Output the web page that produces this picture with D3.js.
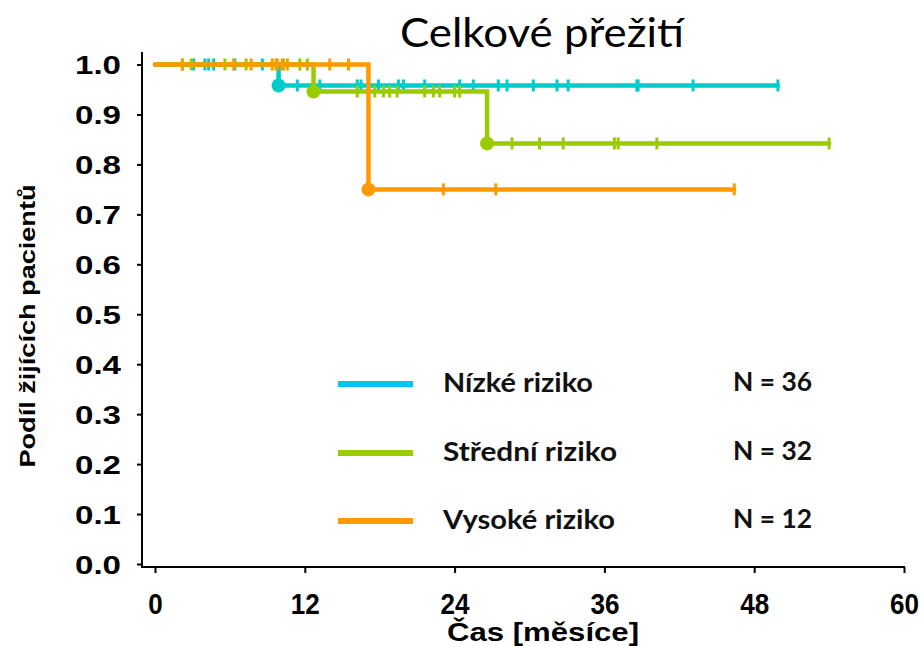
<!DOCTYPE html>
<html>
<head>
<meta charset="utf-8">
<script src="https://cdn.jsdelivr.net/npm/d3@7"></script>
<style>
  html, body { margin: 0; padding: 0; background: #fff; }
  svg { display: block; }
</style>
</head>
<body>
<svg id="chart" width="921" height="646"></svg>
<script>
// Kaplan–Meier overall survival by risk group (months)
const groups = ["Nízké riziko", "Střední riziko", "Vysoké riziko"];
const groupN = [36, 32, 12];
const groupColors = ["#00cccc", "#99cc00", "#ff9900"];
const legendColors = ["#00c4f0", "#99cc00", "#ff9900"];

// event times and survival after each event
const lowEvents = [{ t: 9.9, s: 0.958 }];
const midEvents = [{ t: 12.7, s: 0.946 }, { t: 26.6, s: 0.842 }];
const highEvents = [{ t: 17.1, s: 0.75 }];

// censored observation times (the last one ends the curve)
const lowCensored = [3.1, 4.0, 4.3, 4.7, 6.4, 8.6, 11.4, 13.2, 16.2, 16.5, 17.9, 19.5, 19.9,
  21.6, 24.4, 25.5, 27.5, 28.2, 30.3, 32.2, 33.1, 38.6, 38.7, 43.1, 49.9];
const midCensored = [2.2, 2.9, 5.6, 7.3, 9.7, 10.3, 11.6, 12.2, 16.2, 17.6, 18.3, 18.8, 19.4,
  21.6, 22.3, 22.8, 24.0, 24.4, 28.6, 30.8, 32.7, 36.8, 37.1, 40.2, 54.0];
const highCensored = [2.2, 6.3, 7.7, 9.4, 9.8, 10.2, 10.6, 14.0, 15.5, 23.1, 27.3, 46.4];

const xTicks = [0, 12, 24, 36, 48, 60];
const yTicks = [0, 0.1, 0.2, 0.3, 0.4, 0.5, 0.6, 0.7, 0.8, 0.9, 1.0];

const series = [
  { name: groups[0], n: groupN[0], color: groupColors[0], events: lowEvents, censored: lowCensored },
  { name: groups[1], n: groupN[1], color: groupColors[1], events: midEvents, censored: midCensored },
  { name: groups[2], n: groupN[2], color: groupColors[2], events: highEvents, censored: highCensored }
];

const svg = d3.select("#chart");
const x = d3.scaleLinear().domain([0, 60]).range([155, 904]);
const y = d3.scaleLinear().domain([0, 1]).range([564, 64.5]);
const axisX = 142, axisY = 567;
const ARIAL = "'Liberation Sans', Arial, sans-serif";
const BODY = "Lato, 'Open Sans', sans-serif";

// title
svg.append("text")
  .attr("x", 542).attr("y", 47)
  .attr("text-anchor", "middle")
  .style("font-family", BODY)
  .style("font-size", "40px")
  .attr("textLength", 284).attr("lengthAdjust", "spacingAndGlyphs")
  .attr("fill", "#000")
  .text("Celkové přežití");

// axes
const gY = svg.append("g").attr("transform", `translate(${axisX},0)`)
  .call(d3.axisLeft(y).tickValues(yTicks).tickFormat(d3.format(".1f")).tickSize(5).tickPadding(16));
gY.select(".domain").remove();
gY.selectAll(".tick line").attr("stroke", "#000").attr("stroke-width", 2);
gY.selectAll(".tick text")
  .style("font-family", ARIAL).style("font-weight", "bold").style("font-size", "26px")
  .attr("dy", "0.36em")
  .attr("textLength", 46).attr("lengthAdjust", "spacingAndGlyphs")
  .attr("fill", "#000");

const gX = svg.append("g").attr("transform", `translate(0,${axisY})`)
  .call(d3.axisBottom(x).tickValues(xTicks).tickFormat(d3.format("d")).tickSize(6));
gX.select(".domain").remove();
gX.selectAll(".tick line").attr("stroke", "#000").attr("stroke-width", 2);
gX.selectAll(".tick text")
  .style("font-family", ARIAL).style("font-weight", "bold").style("font-size", "29px")
  .attr("y", 47).attr("dy", 0)
  .attr("textLength", d => String(d).length * 14.5).attr("lengthAdjust", "spacingAndGlyphs")
  .attr("fill", "#000");

svg.append("line").attr("x1", axisX).attr("x2", axisX).attr("y1", 52).attr("y2", axisY + 1)
  .attr("stroke", "#000").attr("stroke-width", 2);
svg.append("line").attr("x1", axisX - 1).attr("x2", x(60) + 1).attr("y1", axisY).attr("y2", axisY)
  .attr("stroke", "#000").attr("stroke-width", 2);

// axis titles
svg.append("text")
  .attr("x", 543).attr("y", 641)
  .attr("text-anchor", "middle")
  .style("font-family", ARIAL).style("font-weight", "bold").style("font-size", "25px")
  .attr("textLength", 192).attr("lengthAdjust", "spacingAndGlyphs")
  .attr("fill", "#000")
  .text("Čas [měsíce]");
svg.append("text")
  .attr("transform", "translate(35,326) rotate(-90)")
  .attr("text-anchor", "middle")
  .style("font-family", ARIAL).style("font-weight", "bold").style("font-size", "22px")
  .attr("textLength", 283).attr("lengthAdjust", "spacingAndGlyphs")
  .attr("fill", "#000")
  .text("Podíl žijících pacientů");

// survival step curves
const survAt = (events, t) => {
  let s = 1;
  events.forEach(e => { if (e.t <= t) s = e.s; });
  return s;
};
const line = d3.line().x(d => x(d.t)).y(d => y(d.s)).curve(d3.curveStepAfter);

series.forEach(sr => {
  const end = d3.max(sr.censored);
  const pts = [{ t: 0, s: 1 }, ...sr.events, { t: end, s: survAt(sr.events, end) }];
  const g = svg.append("g");
  g.append("path").attr("d", line(pts))
    .attr("fill", "none").attr("stroke", sr.color).attr("stroke-width", 4.5)
    .attr("stroke-linecap", "round");
  g.selectAll("line.censor").data(sr.censored).join("line")
    .attr("class", "censor")
    .attr("x1", d => x(d)).attr("x2", d => x(d))
    .attr("y1", d => y(survAt(sr.events, d)) - 6)
    .attr("y2", d => y(survAt(sr.events, d)) + 6)
    .attr("stroke", sr.color).attr("stroke-width", 3);
  g.selectAll("circle").data(sr.events).join("circle")
    .attr("cx", d => x(d.t)).attr("cy", d => y(d.s)).attr("r", 7)
    .attr("fill", sr.color);
});

// legend
const legendY = [384, 453, 521];
const legendBase = [392, 461, 529];
const nameWidths = [150, 174, 172];
series.forEach((sr, i) => {
  svg.append("line")
    .attr("x1", 338).attr("x2", 413).attr("y1", legendY[i]).attr("y2", legendY[i])
    .attr("stroke", legendColors[i]).attr("stroke-width", 6);
  svg.append("text")
    .attr("x", 443).attr("y", legendBase[i])
    .style("font-family", BODY).style("font-weight", "bold").style("font-size", "27px")
    .attr("textLength", nameWidths[i]).attr("lengthAdjust", "spacingAndGlyphs")
    .attr("fill", "#111")
    .text(sr.name);
  svg.append("text")
    .attr("x", 733).attr("y", legendBase[i] - 1)
    .style("font-family", BODY).style("font-weight", "bold").style("font-size", "27px")
    .attr("textLength", 79).attr("lengthAdjust", "spacingAndGlyphs")
    .attr("fill", "#111")
    .text("N = " + sr.n);
});
</script>
</body>
</html>
